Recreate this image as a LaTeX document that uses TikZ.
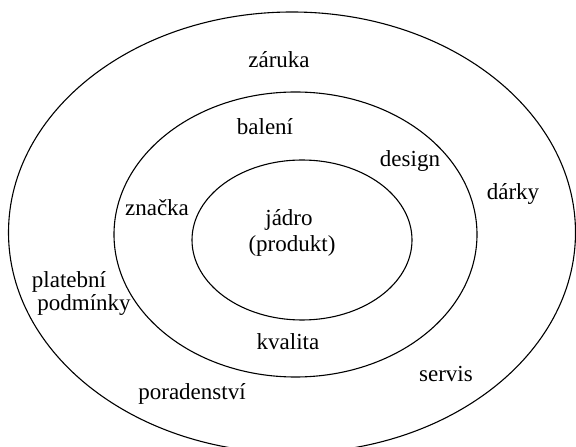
\documentclass[tikz,border=0pt]{standalone}
\usepackage{fontspec}
\setmainfont{Liberation Serif}
\begin{document}
\begin{tikzpicture}[x=1pt,y=1pt,
  ring/.style={draw=black,line width=1.1pt},
  lbl/.style={font=\fontsize{23}{26}\selectfont,inner sep=0pt,anchor=base}]
\useasboundingbox (0,0) rectangle (576,447);
\fill[white] (0,0) rectangle (576,447);
\begin{scope}
\clip (0,0) rectangle (576,447);
\draw[ring] (292,214.5) ellipse [x radius=283.5, y radius=220.5];
\end{scope}
\draw[ring] (295.5,212.5) ellipse [x radius=181.5, y radius=142.5];
\draw[ring] (302,207) ellipse [x radius=110, y radius=80];
\node[lbl] (zaruka) at (279,379) {záruka};
\node[lbl] (baleni) at (265,312) {balení};
\node[lbl] (design) at (410,280) {design};
\node[lbl] (darky) at (513,247) {dárky};
\node[lbl] (znacka) at (157,231) {značka};
\node[lbl] (jadro) at (289,221) {jádro};
\node[lbl] (produkt) at (292,195) {(produkt)};
\node[lbl] (plat) at (69,159) {platební};
\node[lbl] (podm) at (84,136) {podmínky};
\node[lbl] (kvalita) at (288,97) {kvalita};
\node[lbl] (servis) at (446,65) {servis};
\node[lbl] (porad) at (192,47) {poradenství};
\end{tikzpicture}
\end{document}
